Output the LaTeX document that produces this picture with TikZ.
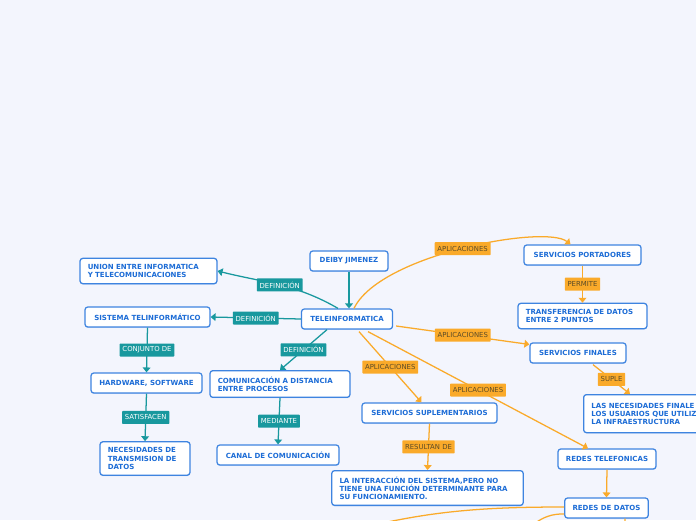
\documentclass[tikz,border=0pt]{standalone}
\usepackage{fontspec}
\setmainfont{DejaVu Sans}
\usepackage{xcolor}
\usepackage{tikz}
\usetikzlibrary{positioning,arrows.meta,shadows,calc}

\definecolor{bgpage}{RGB}{243,245,253}
\definecolor{boxline}{RGB}{62,132,224}
\definecolor{boxtext}{RGB}{28,108,214}
\definecolor{tealc}{RGB}{24,152,158}
\definecolor{orangec}{RGB}{250,170,42}
\definecolor{lbltext}{RGB}{92,76,40}
\newcommand{\pxu}{0.05cm}

\begin{document}
\begin{tikzpicture}[x=0.05cm,y=-0.05cm,>={Triangle[width=11pt,length=7pt]},
  bx/.style={draw=boxline,line width=1.8pt,rounded corners=4pt,fill=white,
    text=boxtext,font=\fontsize{10}{11.5}\selectfont\bfseries,align=left,
    inner xsep=11pt,inner ysep=8.5pt,minimum height=20*\pxu,
    drop shadow={shadow xshift=0pt,shadow yshift=-1.2pt,fill=boxline,opacity=0.25}},
  tl/.style={draw=tealc,line width=1.8pt,->},
  og/.style={draw=orangec,line width=1.8pt,->},
  tlbl/.style={fill=tealc,text=white,font=\fontsize{9.8}{10}\selectfont,
    inner xsep=4pt,inner ysep=0pt,minimum height=13*\pxu,rounded corners=1pt},
  olbl/.style={fill=orangec,text=lbltext,font=\fontsize{9.8}{10}\selectfont,
    inner xsep=4pt,inner ysep=0pt,minimum height=13*\pxu,rounded corners=1pt}]
\path[use as bounding box,fill=bgpage] (0,0) rectangle (696,520);

% centro y definiciones
\node[bx,minimum width=78*\pxu] (deiby) at (349,261) {DEIBY JIMENEZ};
\node[bx,minimum width=91*\pxu] (tele) at (347,319) {TELEINFORMATICA};
\node[bx,text width=121.5*\pxu] (union) at (148.5,271) {UNION ENTRE INFORMATICA\\Y TELECOMUNICACIONES};
\node[bx,minimum width=125*\pxu] (sistema) at (147.5,317) {SISTEMA TELINFORMÁTICO};
\node[bx,minimum width=111*\pxu] (hard) at (146.5,383) {HARDWARE, SOFTWARE};
\node[bx,text width=74.5*\pxu] (necesid) at (145,458.5) {NECESIDADES DE\\TRANSMISION DE\\DATOS};
\node[bx,text width=124.5*\pxu] (comun) at (280,384) {COMUNICACIÓN A DISTANCIA\\ENTRE PROCESOS};
\node[bx,minimum width=122*\pxu] (canal) at (278,455) {CANAL DE COMUNICACIÓN};

% aplicaciones
\node[bx,minimum width=117*\pxu] (portad) at (582.5,255) {SERVICIOS PORTADORES};
\node[bx,text width=113.5*\pxu] (transf) at (582.5,316) {TRANSFERENCIA DE DATOS\\ENTRE 2 PUNTOS};
\node[bx,minimum width=96*\pxu] (finales) at (578,353) {SERVICIOS FINALES};
\node[bx,anchor=north west,minimum height=38*\pxu] (usuarios) at (583,394) {LAS NECESIDADES FINALE\\LOS USUARIOS QUE UTILIZ\\LA INFRAESTRUCTURA};
\node[bx,minimum width=135*\pxu] (supl) at (429.5,413) {SERVICIOS SUPLEMENTARIOS};
\node[bx,text width=176*\pxu] (interac) at (427.5,488) {LA INTERACCIÓN DEL SISTEMA,PERO NO\\TIENE UNA FUNCIÓN DETERMINANTE PARA\\SU FUNCIONAMIENTO.};
\node[bx,minimum width=98*\pxu] (redtel) at (607,459) {REDES TELEFONICAS};
\node[bx,minimum width=83*\pxu] (reddat) at (606.5,508) {REDES DE DATOS};

\coordinate (offa) at (330,536);
\coordinate (offb) at (510,545);
\coordinate (offc) at (625,560);

\draw[tl] (deiby.south) -- (deiby.south |- tele.north);
\draw[tl] ($(tele.north)+(-9,0)$) to[out=150,in=-14] node[tlbl]{DEFINICIÓN} (union.east);
\draw[tl] (tele.west) -- node[tlbl]{DEFINICIÓN} (sistema.east);
\draw[tl] ($(tele.south)+(-20,0)$) -- node[tlbl]{DEFINICIÓN} (comun.north);
\draw[tl] (sistema.south) -- node[tlbl]{CONJUNTO DE} (hard.north);
\draw[tl] (hard.south) -- node[tlbl]{SATISFACEN} (necesid.north);
\draw[tl] (comun.south) -- node[tlbl]{MEDIANTE} (canal.north);

\draw[og] ($(tele.north)+(7,0)$) .. controls +(26,-54) and +(-25,-20) .. node[olbl]{APLICACIONES} ($(portad.north)+(-12,0)$);
\draw[og] ($(tele.east)+(3,7)$) -- node[olbl]{APLICACIONES} (finales.170);
\draw[og] ($(tele.south)+(12,2)$) -- node[olbl]{APLICACIONES} ($(supl.north)+(-8,0)$);
\draw[og] ($(tele.south)+(21,2)$) -- node[olbl]{APLICACIONES} ($(redtel.north)+(-19,0)$);
\draw[og] (portad.south) -- node[olbl]{PERMITE} (transf.north);
\draw[og] ($(finales.south)+(15,1)$) -- node[olbl]{SUPLE} ($(usuarios.north west)+(47,0)$);
\draw[og] (supl.south) -- node[olbl]{RESULTAN DE} (interac.north);
\draw[og] (redtel.south) -- (reddat.north);
\draw[og] ($(reddat.west)+(0,-1)$) to[out=180,in=15] (offa);
\draw[og] ($(reddat.west)+(0,6)$) to[out=178,in=40] (offb);
\draw[og] ($(reddat.south)+(18.5,0)$) -- (offc);
\end{tikzpicture}
\end{document}
